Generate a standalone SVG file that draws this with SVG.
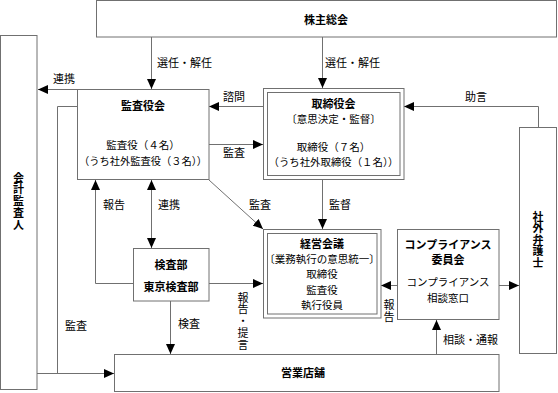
<svg xmlns="http://www.w3.org/2000/svg" width="558" height="393" viewBox="0 0 558 393">
<style>
.box{fill:#fff;stroke:#707070;stroke-width:1}
.ln{fill:none;stroke:#707070;stroke-width:1}
text{font-family:"Noto Sans CJK JP","Noto Sans",sans-serif;fill:#000}
.t{font-size:11px;font-weight:bold;text-anchor:middle}
.b{font-size:10.5px;text-anchor:middle}
.l{font-size:11px}
.vt{font-size:11px;writing-mode:vertical-rl;text-anchor:start}
.vb{font-size:11px;font-weight:bold;writing-mode:vertical-rl;text-anchor:start}
</style>
<defs>
<marker id="ah" viewBox="0 0 10 10" refX="10" refY="5" markerWidth="10" markerHeight="10" markerUnits="userSpaceOnUse" orient="auto-start-reverse">
<path d="M0,0.5 L10,5 L0,9.5 z" fill="#000"/>
</marker>
</defs>

<g id="connectors">
<path class="ln" d="M151.5,37 V89" marker-end="url(#ah)"/>
<path class="ln" d="M322.5,37 V88" marker-end="url(#ah)"/>
<path class="ln" d="M77,89.5 H38" marker-end="url(#ah)"/>
<path class="ln" d="M263,106.5 H209" marker-end="url(#ah)"/>
<path class="ln" d="M209,144.5 H263" marker-end="url(#ah)"/>
<path class="ln" d="M209,180 L263,229" marker-end="url(#ah)"/>
<path class="ln" d="M322.5,180 V229" marker-end="url(#ah)"/>
<path class="ln" d="M538.5,127 V106.5 H404" marker-end="url(#ah)"/>
<path class="ln" d="M133,283.5 H95.5 V180" marker-end="url(#ah)"/>
<path class="ln" d="M151.5,180 V248" marker-start="url(#ah)" marker-end="url(#ah)"/>
<path class="ln" d="M209,283.5 H263" marker-end="url(#ah)"/>
<path class="ln" d="M170.5,301 V354" marker-end="url(#ah)"/>
<path class="ln" d="M77,106.5 H57.5 V373.5"/>
<path class="ln" d="M37,373.5 H114" marker-end="url(#ah)"/>
<path class="ln" d="M397,285.5 H381" marker-end="url(#ah)"/>
<path class="ln" d="M499,285.5 H519" marker-end="url(#ah)"/>
<path class="ln" d="M436.5,354 V320" marker-end="url(#ah)"/>

<text class="l" x="157" y="67">選任・解任</text>
<text class="l" x="325" y="67">選任・解任</text>
<text class="l" x="53" y="83">連携</text>
<text class="l" x="223" y="101">諮問</text>
<text class="l" x="223" y="157">監査</text>
<text class="l" x="465" y="101">助言</text>
<text class="l" x="103" y="209">報告</text>
<text class="l" x="158" y="209">連携</text>
<text class="l" x="249" y="209">監査</text>
<text class="l" x="329" y="209">監督</text>
<text class="l" x="65" y="330">監査</text>
<text class="l" x="178" y="328">検査</text>
<text class="l" x="443" y="344">相談・通報</text>
<text class="vt" x="243" y="292" letter-spacing="0.8">報告・提言</text>
<text class="vt" x="389" y="299" letter-spacing="1.5">報告</text>
</g>

<g id="kabunushi">
<rect class="box" x="96.5" y="0.5" width="460" height="36.5"/>
<text class="t" x="326" y="24">株主総会</text>
</g>

<g id="kaikei">
<rect class="box" x="0.5" y="35.5" width="36.5" height="354"/>
<text class="vb" x="18.5" y="172" letter-spacing="0.8">会計監査人</text>
</g>

<g id="kansayakukai">
<rect class="box" x="77.5" y="89.5" width="131.5" height="90"/>
<text class="t" x="143" y="110">監査役会</text>
<text class="b" x="143" y="149">監査役（４名）</text>
<text class="b" x="143" y="165" textLength="128" lengthAdjust="spacingAndGlyphs">（うち社外監査役（３名））</text>
</g>

<g id="torishimariyakukai">
<rect class="box" x="263.5" y="88.5" width="140.5" height="91"/>
<rect class="box" x="267.5" y="92.5" width="132.5" height="83"/>
<text class="t" x="333.5" y="107.5">取締役会</text>
<text class="b" x="333.5" y="123" font-size="10">〔意思決定・監督〕</text>
<text class="b" x="333.5" y="151">取締役（７名）</text>
<text class="b" x="333.5" y="166" textLength="130" lengthAdjust="spacingAndGlyphs">（うち社外取締役（１名））</text>
</g>

<g id="bengoshi">
<rect class="box" x="519.5" y="127.5" width="37" height="226"/>
<text class="vb" x="538" y="211" letter-spacing="0.6">社外弁護士</text>
</g>

<g id="keieikaigi">
<rect class="box" x="263.5" y="229.5" width="117.5" height="88.5"/>
<rect class="box" x="267.5" y="233.5" width="109.5" height="80.5"/>
<text class="t" x="322" y="247.5">経営会議</text>
<text class="b" x="322" y="263" font-size="9.5">〔業務執行の意思統一〕</text>
<text class="b" x="322" y="278" font-size="11">取締役</text>
<text class="b" x="322" y="294" font-size="11">監査役</text>
<text class="b" x="322" y="309" font-size="11">執行役員</text>
</g>

<g id="compliance">
<rect class="box" x="397.5" y="229.5" width="101.5" height="90"/>
<text class="t" x="448" y="249" font-size="12">コンプライアンス</text>
<text class="t" x="448" y="264" font-size="12">委員会</text>
<text class="b" x="448" y="286" font-size="11.5">コンプライアンス</text>
<text class="b" x="448" y="302" font-size="11">相談窓口</text>
</g>

<g id="kensabu">
<rect class="box" x="133.5" y="248.5" width="75.5" height="52.5"/>
<text class="t" x="171" y="269">検査部</text>
<text class="t" x="171" y="291">東京検査部</text>
</g>

<g id="eigyoten">
<rect class="box" x="114.5" y="354.5" width="384.5" height="37"/>
<text class="t" x="303" y="377">営業店舗</text>
</g>
</svg>
